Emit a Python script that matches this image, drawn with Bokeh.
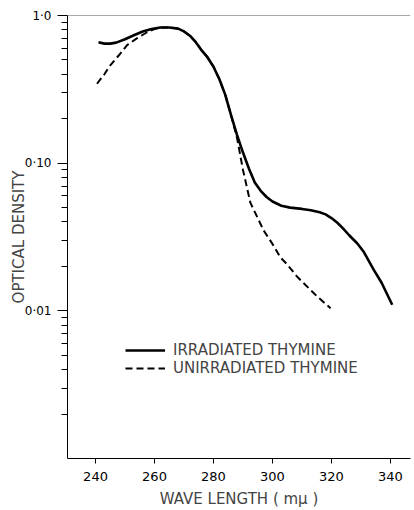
from bokeh.plotting import figure
from bokeh.models import Range1d, FixedTicker, Span, Legend, LegendItem
from bokeh.embed import file_html
from bokeh.resources import INLINE

# Irradiated thymine (solid)
wl_irr = [241, 243, 245, 247, 250, 253, 256, 259, 262, 265, 268, 270, 272, 274, 276,
          278, 280, 282, 284, 286, 288, 290, 292, 294, 296, 298, 300, 303, 306, 310,
          313, 316, 318, 320, 322, 324, 326, 328.7, 331, 334.3, 337, 340.6]
od_irr = [0.66, 0.645, 0.645, 0.655, 0.69, 0.735, 0.78, 0.81, 0.83, 0.83, 0.815, 0.78,
          0.73, 0.66, 0.58, 0.52, 0.45, 0.37, 0.29, 0.21, 0.155, 0.118, 0.092, 0.074,
          0.065, 0.059, 0.055, 0.0515, 0.050, 0.049, 0.048, 0.0465, 0.045, 0.0425,
          0.0395, 0.036, 0.0325, 0.0287, 0.025, 0.019, 0.0155, 0.011]

# Unirradiated thymine (dashed)
wl_unirr = [240.5, 243, 245, 248, 250.7, 254, 257.5, 260, 262, 265, 268, 270, 272, 274,
            276, 278, 280, 282, 284, 286, 288, 290, 292.5, 295, 297, 300, 302.7, 305,
            308.4, 310, 315, 319.7]
od_unirr = [0.345, 0.40, 0.46, 0.54, 0.63, 0.70, 0.77, 0.81, 0.83, 0.83, 0.815, 0.78,
            0.73, 0.66, 0.58, 0.52, 0.45, 0.37, 0.29, 0.21, 0.148, 0.090, 0.054, 0.0425,
            0.035, 0.0284, 0.023, 0.0206, 0.017, 0.0158, 0.0126, 0.0104]

x_ticks = [240, 260, 280, 300, 320, 340]
y_major = [0.01, 0.1, 1.0]
y_minor = [0.002, 0.003, 0.004, 0.005, 0.006, 0.007, 0.008, 0.009,
           0.02, 0.03, 0.04, 0.05, 0.06, 0.07, 0.08, 0.09,
           0.2, 0.3, 0.4, 0.5, 0.6, 0.7, 0.8, 0.9]
y_labels = {0.01: "0·01", 0.1: "0·10", 1.0: "1·0"}

FONT = "DejaVu Sans"

p = figure(width=414, height=510, y_axis_type="log",
           x_range=Range1d(230.5, 346.8), y_range=Range1d(0.001, 1.0),
           output_backend="svg", toolbar_location=None,
           min_border_left=67, min_border_right=4, min_border_top=15, min_border_bottom=51)
p.outline_line_color = None
p.grid.visible = False
p.background_fill_color = "white"

r1 = p.line(wl_irr, od_irr, line_color="black", line_width=2.6)
r2 = p.line(wl_unirr, od_unirr, line_color="black", line_width=2.0, line_dash="7 4")

p.add_layout(Span(location=1.0, dimension="width", line_color="#555555", line_width=1))

xa = p.xaxis[0]
xa.ticker = FixedTicker(ticks=x_ticks)
xa.minor_tick_line_color = None
xa.major_tick_out = 5
xa.major_tick_in = 0
xa.major_label_standoff = 8
xa.major_label_text_font = FONT
xa.major_label_text_font_size = "13px"
xa.major_label_text_color = "black"
xa.axis_label = "WAVE LENGTH ( mμ )"
xa.axis_label_text_font = FONT
xa.axis_label_text_font_size = "15px"
xa.axis_label_text_font_style = "normal"
xa.axis_label_standoff = 6
xa.axis_line_color = "black"
xa.major_tick_line_color = "black"

ya = p.yaxis[0]
ya.ticker = FixedTicker(ticks=y_major, minor_ticks=y_minor)
ya.major_label_overrides = y_labels
ya.major_tick_out = 10
ya.major_tick_in = 0
ya.minor_tick_out = 6
ya.minor_tick_in = 0
ya.major_label_standoff = 6
ya.major_label_text_font = FONT
ya.major_label_text_font_size = "12px"
ya.major_label_text_color = "black"
ya.axis_label = "OPTICAL DENSITY"
ya.axis_label_text_font = FONT
ya.axis_label_text_font_size = "15px"
ya.axis_label_text_font_style = "normal"
ya.axis_label_standoff = -6
ya.axis_line_color = "black"
ya.major_tick_line_color = "black"
ya.minor_tick_line_color = "black"

legend = Legend(items=[LegendItem(label="IRRADIATED THYMINE", renderers=[r1]),
                       LegendItem(label="UNIRRADIATED THYMINE", renderers=[r2])],
                location=(58, 81), border_line_color=None, background_fill_alpha=0,
                padding=0, margin=0, spacing=0, glyph_width=40, glyph_height=16,
                label_height=16, label_standoff=8,
                label_text_font=FONT, label_text_font_size="15px")
p.add_layout(legend, "center")

open("out.html", "w").write(file_html(p, INLINE))
